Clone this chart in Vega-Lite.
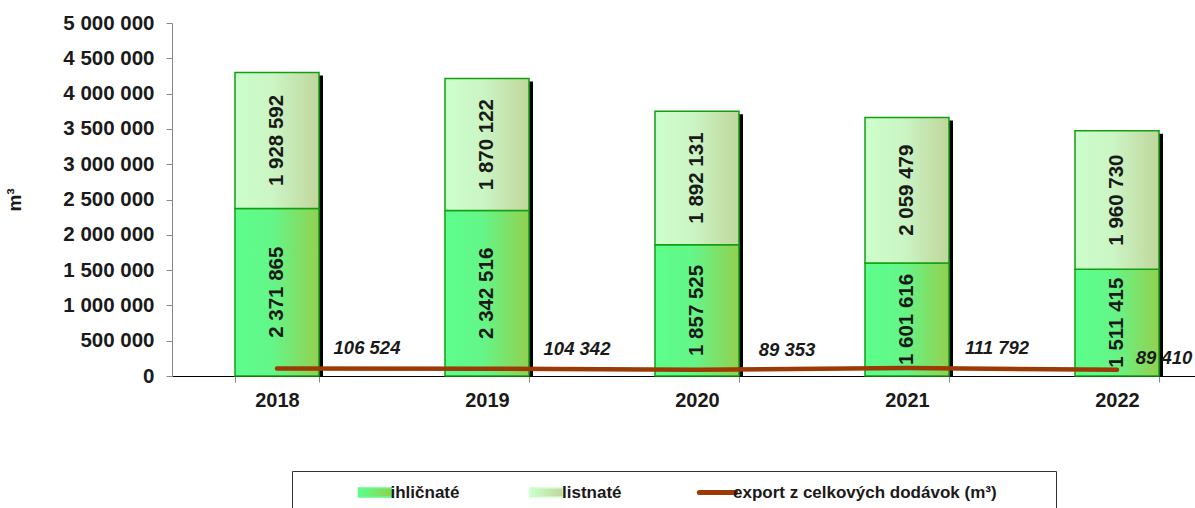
{
  "$schema": "https://vega.github.io/schema/vega-lite/v6.json",
  "width": 1050,
  "height": 353,
  "autosize": "none",
  "padding": {"left": 172, "top": 23, "right": 0, "bottom": 132},
  "background": "white",
  "data": {"values": [
    {"year": "2018", "series": "ihličnaté", "value": 2371865},
    {"year": "2018", "series": "listnaté", "value": 1928592},
    {"year": "2018", "series": "export z celkových dodávok (m³)", "value": 106524},
    {"year": "2019", "series": "ihličnaté", "value": 2342516},
    {"year": "2019", "series": "listnaté", "value": 1870122},
    {"year": "2019", "series": "export z celkových dodávok (m³)", "value": 104342},
    {"year": "2020", "series": "ihličnaté", "value": 1857525},
    {"year": "2020", "series": "listnaté", "value": 1892131},
    {"year": "2020", "series": "export z celkových dodávok (m³)", "value": 89353},
    {"year": "2021", "series": "ihličnaté", "value": 1601616},
    {"year": "2021", "series": "listnaté", "value": 2059479},
    {"year": "2021", "series": "export z celkových dodávok (m³)", "value": 111792},
    {"year": "2022", "series": "ihličnaté", "value": 1511415},
    {"year": "2022", "series": "listnaté", "value": 1960730},
    {"year": "2022", "series": "export z celkových dodávok (m³)", "value": 89410}
  ]},
  "encoding": {
    "x": {
      "field": "year", "type": "nominal",
      "scale": {"paddingInner": 0.6, "paddingOuter": 0.3},
      "axis": {
        "title": null, "labelAngle": 0, "labelFontSize": 20, "labelFontWeight": "bold",
        "labelColor": "#1a1a1a", "labelFont": "Liberation Sans", "tickBand": "extent",
        "domainColor": "#000000", "tickColor": "#888888", "tickSize": 6, "labelPadding": 8
      }
    }
  },
  "layer": [
    {
      "transform": [{"filter": "datum.series === 'export z celkových dodávok (m³)'"}],
      "mark": {"type": "line", "strokeWidth": 0, "opacity": 0},
      "encoding": {
        "y": {"field": "value", "type": "quantitative",
          "scale": {"domain": [0, 5000000], "nice": false},
          "axis": {"title": "m³", "tickCount": 11, "labelOverlap": false,
            "values": [0, 500000, 1000000, 1500000, 2000000, 2500000, 3000000, 3500000, 4000000, 4500000, 5000000]}}
      }
    },
    {
      "transform": [{"filter": "datum.series !== 'export z celkových dodávok (m³)'"}],
      "mark": {"type": "bar", "color": "#000000", "xOffset": 4, "yOffset": 3, "clip": true},
      "encoding": {
        "y": {"aggregate": "sum", "field": "value", "type": "quantitative"}
      }
    },
    {
      "transform": [
        {"filter": "datum.series !== 'export z celkových dodávok (m³)'"},
        {"stack": "value", "groupby": ["year"], "sort": [{"field": "series", "order": "ascending"}], "as": ["v0", "v1"]},
        {"filter": "datum.series === 'ihličnaté'"}
      ],
      "mark": {
        "type": "bar", "stroke": "#12a012", "strokeWidth": 1.5,
        "fill": {"gradient": "linear", "x1": 0, "y1": 0, "x2": 1, "y2": 0,
          "stops": [{"offset": 0, "color": "#5cff8c"}, {"offset": 0.45, "color": "#64f688"}, {"offset": 1, "color": "#92d050"}]}
      },
      "encoding": {
        "y": {"field": "v0", "type": "quantitative"},
        "y2": {"field": "v1"}
      }
    },
    {
      "transform": [
        {"filter": "datum.series !== 'export z celkových dodávok (m³)'"},
        {"stack": "value", "groupby": ["year"], "sort": [{"field": "series", "order": "ascending"}], "as": ["v0", "v1"]},
        {"filter": "datum.series === 'listnaté'"}
      ],
      "mark": {
        "type": "bar", "stroke": "#12a012", "strokeWidth": 1.5,
        "fill": {"gradient": "linear", "x1": 0, "y1": 0, "x2": 1, "y2": 0,
          "stops": [{"offset": 0, "color": "#ccffcc"}, {"offset": 0.45, "color": "#cbf5c4"}, {"offset": 1, "color": "#c0d69c"}]}
      },
      "encoding": {
        "y": {"field": "v0", "type": "quantitative"},
        "y2": {"field": "v1"}
      }
    },
    {
      "transform": [{"filter": "datum.series !== 'export z celkových dodávok (m³)'"}],
      "mark": {"type": "text", "angle": 270, "fontSize": 20.5, "fontWeight": "bold", "font": "Liberation Sans",
        "color": "#1a1a1a", "align": "center", "baseline": "middle"},
      "encoding": {
        "y": {"field": "value", "type": "quantitative", "stack": "zero", "bandPosition": 0.5},
        "detail": {"field": "series"},
        "order": {"field": "series", "sort": "ascending"},
        "text": {"field": "value", "type": "quantitative", "format": ",d"}
      }
    },
    {
      "transform": [{"filter": "datum.series === 'export z celkových dodávok (m³)'"}],
      "mark": {"type": "line", "strokeWidth": 4.5, "strokeCap": "round"},
      "encoding": {
        "y": {"field": "value", "type": "quantitative"},
        "color": {
          "field": "series", "type": "nominal",
          "scale": {"domain": ["ihličnaté", "listnaté", "export z celkových dodávok (m³)"], "range": ["#5cff8c", "#ccffcc", "#9c3a06"]},
          "legend": {
            "orient": "none", "legendX": 120, "legendY": 448, "direction": "horizontal",
            "title": "\u00a0", "titleOrient": "right", "titlePadding": 46, "titleFontSize": 4,
            "padding": 13, "strokeColor": "#333333", "fillColor": "#ffffff",
            "symbolOffset": 0, "labelOffset": 7, "columnPadding": 67, "gridAlign": "none",
            "symbolSize": 1089, "labelFontSize": 17, "labelFontWeight": "bold",
            "labelFont": "Liberation Sans", "labelColor": "#1a1a1a", "labelLimit": 400,
            "symbolType": "M-1,-0.28H1V0.28H-1Z",
            "encode": {
              "symbols": {
                "update": {
                  "shape": {"signal": "datum.value === 'export z celkových dodávok (m³)' ? 'M-1.1,0H1.1' : datum.value === 'ihličnaté' ? 'M2.73,-0.28H4.73V0.28H2.73Z' : 'M-1,-0.28H1V0.28H-1Z'"},
                  "fill": {"signal": "datum.value === 'ihličnaté' ? {gradient: 'linear', x1: 0, y1: 0, x2: 1, y2: 0, stops: [{offset: 0, color: '#5cff8c'}, {offset: 1, color: '#92d050'}]} : datum.value === 'listnaté' ? {gradient: 'linear', x1: 0, y1: 0, x2: 1, y2: 0, stops: [{offset: 0, color: '#ccffcc'}, {offset: 1, color: '#c0d69c'}]} : 'transparent'"},
                  "stroke": {"signal": "datum.value === 'export z celkových dodávok (m³)' ? '#9c3a06' : '#12a012'"},
                  "strokeWidth": {"signal": "datum.value === 'export z celkových dodávok (m³)' ? 5 : 1.5"},
                  "strokeCap": {"value": "round"},
                  "opacity": {"value": 1}
                }
              },
              "labels": {
                "update": {
                  "dx": {"signal": "datum.value === 'ihličnaté' ? 61.5 : 0"}
                }
              }
            }
          }
        }
      }
    },
    {
      "transform": [{"filter": "datum.series === 'export z celkových dodávok (m³)' && datum.year !== '2022'"}],
      "mark": {"type": "text", "fontSize": 18.5, "fontWeight": "bold", "fontStyle": "italic", "font": "Liberation Sans",
        "color": "#1a1a1a", "align": "center", "baseline": "middle", "dx": 90, "dy": -20},
      "encoding": {
        "y": {"field": "value", "type": "quantitative"},
        "text": {"field": "value", "type": "quantitative", "format": ",d"}
      }
    },
    {
      "transform": [{"filter": "datum.series === 'export z celkových dodávok (m³)' && datum.year === '2022'"}],
      "mark": {"type": "text", "fontSize": 18.5, "fontWeight": "bold", "fontStyle": "italic", "font": "Liberation Sans",
        "color": "#1a1a1a", "align": "center", "baseline": "middle", "dx": 47, "dy": -12},
      "encoding": {
        "y": {"field": "value", "type": "quantitative"},
        "text": {"field": "value", "type": "quantitative", "format": ",d"}
      }
    }
  ],
  "config": {
    "view": {"stroke": null},
    "font": "Liberation Sans",
    "axis": {"labelOverlap": false},
    "axisY": {
      "titleFontSize": 19, "titleFontWeight": "bold", "titleColor": "#1a1a1a",
      "titleFont": "Liberation Sans", "titlePadding": 38, "labelOverlap": false,
      "format": ",d", "labelFontSize": 20.5, "labelFontWeight": "bold", "labelColor": "#1a1a1a",
      "labelFont": "Liberation Sans", "grid": false, "domainColor": "#888888",
      "tickColor": "#888888", "tickSize": 6, "labelPadding": 12
    },
    "locale": {"number": {"decimal": ",", "thousands": " ", "grouping": [3], "currency": ["", ""]}}
  }
}
